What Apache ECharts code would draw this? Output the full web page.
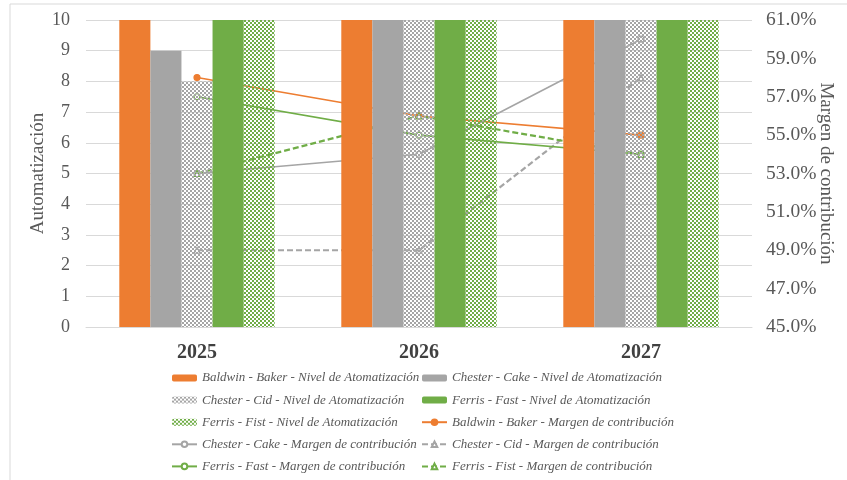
<!DOCTYPE html>
<html><head><meta charset="utf-8">
<script src="https://cdn.jsdelivr.net/npm/echarts@6/dist/echarts.min.js"></script>
<style>html,body{margin:0;padding:0;background:#fff}#c{width:847px;height:480px}</style>
</head><body><div id="c"></div>
<script>
const categories = ['2025', '2026', '2027'];
const bakerNivel = [10, 10, 10];
const cakeNivel = [9, 10, 10];
const cidNivel = [8, 10, 10];
const fastNivel = [10, 10, 10];
const fistNivel = [10, 10, 10];
const bakerMargen = [58.0, 56.0, 55.0];
const cakeMargen = [53.0, 54.0, 60.0];
const cidMargen = [49.0, 49.0, 58.0];
const fastMargen = [57.0, 55.0, 54.0];
const fistMargen = [53.0, 56.0, 54.0];
const leftTicks = {min: 0, max: 10, interval: 1};
const rightTicks = {min: 45, max: 61, interval: 2};

function pattern(color) {
  const c = document.createElement('canvas');
  c.width = 4; c.height = 4;
  const ctx = c.getContext('2d');
  ctx.fillStyle = color;
  ctx.fillRect(0, 0, 2, 2);
  ctx.fillRect(2, 2, 2, 2);
  return {image: c, repeat: 'repeat'};
}
const ORANGE = '#ed7d31', GRAY = '#a5a5a5', GREEN = '#70ad47';
const serif = 'Liberation Serif';
const cidPat = pattern(GRAY), fistPat = pattern(GREEN);

const chart = echarts.init(document.getElementById('c'), null, {renderer: 'canvas'});
function bar(name, data, color) {
  return {name, type: 'bar', data, yAxisIndex: 0, z: 3, barGap: '0%', barCategoryGap: '30%',
    itemStyle: {color}, emphasis: {disabled: true}};
}
function line(name, data, color, dashed, symbol, filled) {
  return {name, type: 'line', data, yAxisIndex: 1, z: 1, symbol, symbolSize: 6,
    lineStyle: {color, width: dashed ? 2.2 : 1.6, type: dashed ? [6, 3] : 'solid'},
    itemStyle: {color: filled ? color : '#fff', borderColor: color, borderWidth: 1.2},
    emphasis: {disabled: true}};
}
const legendText = {fontFamily: serif, fontStyle: 'italic', fontSize: 13, color: '#595959', lineHeight: 14};
const legendBase = {orient: 'vertical', top: 371, height: 109, padding: 0, itemWidth: 25, itemHeight: 7, itemGap: 8.1, textStyle: legendText};
chart.setOption({
  animation: false,
  graphic: [{type: 'rect', shape: {x: 10, y: 4, width: 900, height: 600}, style: {fill: 'none', stroke: '#d9d9d9', lineWidth: 1}, z: -1}],
  grid: {left: 86, right: 95, top: 20, bottom: 153, outerBoundsMode: 'none', containLabel: false},
  legend: [
    Object.assign({}, legendBase, {left: 171,
      data: ['Baldwin - Baker - Nivel de Atomatización',
        {name: 'Chester - Cid - Nivel de Atomatización', itemStyle: {color: cidPat}},
        {name: 'Ferris - Fist - Nivel de Atomatización', itemStyle: {color: fistPat}},
        'Chester - Cake - Margen de contribución', 'Ferris - Fast - Margen de contribución']}),
    Object.assign({}, legendBase, {left: 421,
      data: ['Chester - Cake - Nivel de Atomatización', 'Ferris - Fast - Nivel de Atomatización', 'Baldwin - Baker - Margen de contribución',
        'Chester - Cid - Margen de contribución', 'Ferris - Fist - Margen de contribución']})
  ],
  xAxis: {type: 'category', data: categories,
    axisLine: {lineStyle: {color: '#d9d9d9'}}, axisTick: {show: false},
    axisLabel: {fontFamily: serif, fontWeight: 'bold', fontSize: 20, color: '#404040', margin: 16}},
  yAxis: [
    {type: 'value', min: leftTicks.min, max: leftTicks.max, interval: leftTicks.interval,
      name: 'Automatización', nameLocation: 'middle', nameGap: 38, nameRotate: 90, nameMoveOverlap: false,
      nameTextStyle: {fontFamily: serif, fontSize: 19, color: '#595959'},
      axisLabel: {fontFamily: serif, fontSize: 18, color: '#595959', margin: 16},
      splitLine: {lineStyle: {color: '#d9d9d9'}}, axisLine: {show: false}, axisTick: {show: false}},
    {type: 'value', min: rightTicks.min, max: rightTicks.max, interval: rightTicks.interval, position: 'right',
      name: 'Margen de contribución', nameLocation: 'middle', nameGap: 64, nameRotate: -90, nameMoveOverlap: false,
      nameTextStyle: {fontFamily: serif, fontSize: 19, color: '#595959'},
      axisLabel: {fontFamily: serif, fontSize: 19.5, color: '#595959', margin: 14, formatter: v => v.toFixed(1) + '%'},
      splitLine: {show: false}, axisLine: {show: false}, axisTick: {show: false}}
  ],
  series: [
    bar('Baldwin - Baker - Nivel de Atomatización', bakerNivel, ORANGE),
    bar('Chester - Cake - Nivel de Atomatización', cakeNivel, GRAY),
    bar('Chester - Cid - Nivel de Atomatización', cidNivel, cidPat),
    bar('Ferris - Fast - Nivel de Atomatización', fastNivel, GREEN),
    bar('Ferris - Fist - Nivel de Atomatización', fistNivel, fistPat),
    line('Baldwin - Baker - Margen de contribución', bakerMargen, ORANGE, false, 'circle', true),
    line('Chester - Cake - Margen de contribución', cakeMargen, GRAY, false, 'circle', false),
    line('Chester - Cid - Margen de contribución', cidMargen, GRAY, true, 'triangle', false),
    line('Ferris - Fast - Margen de contribución', fastMargen, GREEN, false, 'circle', false),
    line('Ferris - Fist - Margen de contribución', fistMargen, GREEN, true, 'triangle', false)
  ]
});
</script></body></html>
